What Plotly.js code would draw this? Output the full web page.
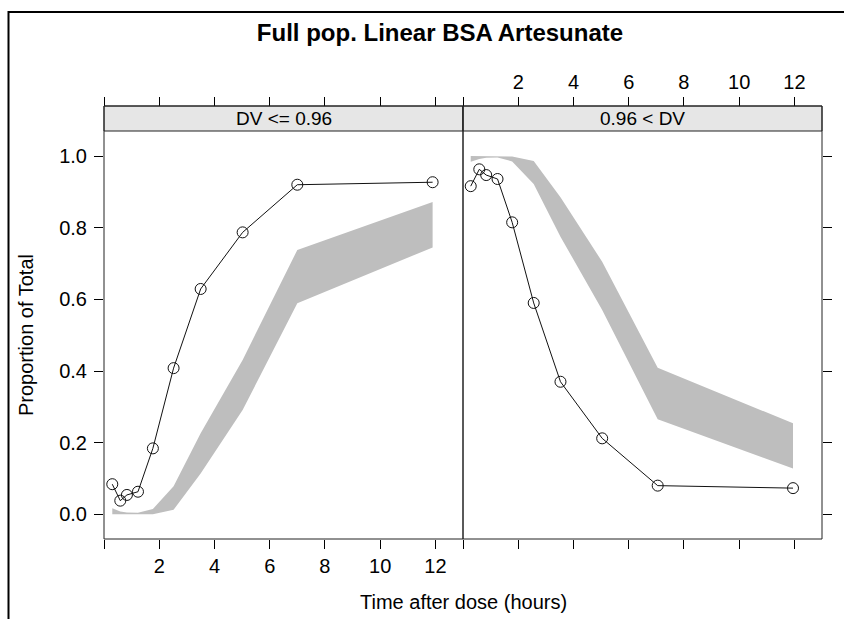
<!DOCTYPE html>
<html>
<head>
<meta charset="utf-8">
<script src="https://cdn.plot.ly/plotly-3.0.1.min.js"></script>
<style>html,body{margin:0;padding:0;background:#fff;}#chart{width:844px;height:619px;}</style>
</head>
<body>
<div id="chart"></div>
<script>
// ---- data ----
var panelLabels = ["DV <= 0.96", "0.96 < DV"];
var xTickVals = [0, 2, 4, 6, 8, 10, 12];
var xTickText = ["", "2", "4", "6", "8", "10", "12"];
var yTickVals = [0, 0.2, 0.4, 0.6, 0.8, 1.0];

// panel 1: DV <= 0.96
var timesLow   = [0.30, 0.59, 0.83, 1.23, 1.77, 2.52, 3.50, 5.02, 7.00, 11.90];
var obsLow     = [0.084, 0.038, 0.054, 0.063, 0.184, 0.408, 0.629, 0.787, 0.920, 0.927];
var bandLowLo  = [0.000, 0.000, 0.000, 0.000, 0.000, 0.013, 0.114, 0.291, 0.589, 0.745];
var bandLowHi  = [0.017, 0.008, 0.005, 0.004, 0.015, 0.078, 0.226, 0.431, 0.738, 0.872];

// panel 2: 0.96 < DV
var timesHigh  = [0.28, 0.59, 0.84, 1.25, 1.78, 2.56, 3.53, 5.04, 7.05, 11.95];
var obsHigh    = [0.916, 0.963, 0.947, 0.936, 0.815, 0.590, 0.370, 0.212, 0.080, 0.073];
var bandHighLo = [0.984, 0.992, 0.995, 0.996, 0.985, 0.922, 0.775, 0.570, 0.265, 0.128];
var bandHighHi = [1.000, 1.000, 1.000, 1.000, 0.999, 0.986, 0.885, 0.705, 0.409, 0.254];

// ---- layout constants ----
var FONT = "Liberation Sans, Arial, Helvetica, sans-serif";
var W = 844, H = 619;
var M = {l: 104, r: 22, t: 106, b: 80};
var plotH = H - M.t - M.b;          // includes strip
var stripPx = 25;
var yTop = (plotH - stripPx) / plotH;
var xRange = [0, 13];
var yRange = [-0.069, 1.07];
var bandColor = "#BEBEBE";

function bandTraces(t, lo, hi, xa, ya) {
  return [
    {x: t, y: lo, xaxis: xa, yaxis: ya, mode: "lines", line: {width: 0, color: bandColor},
     hoverinfo: "skip", showlegend: false},
    {x: t, y: hi, xaxis: xa, yaxis: ya, mode: "lines", line: {width: 0, color: bandColor},
     fill: "tonexty", fillcolor: bandColor, hoverinfo: "skip", showlegend: false}
  ];
}
function obsTrace(t, v, xa, ya) {
  return {x: t, y: v, xaxis: xa, yaxis: ya, mode: "lines+markers",
    line: {color: "#111", width: 1},
    marker: {symbol: "circle-open", size: 11, color: "#111", line: {width: 1, color: "#111"}},
    showlegend: false};
}

var traces = []
  .concat(bandTraces(timesLow, bandLowLo, bandLowHi, "x", "y"))
  .concat([obsTrace(timesLow, obsLow, "x", "y")])
  .concat(bandTraces(timesHigh, bandHighLo, bandHighHi, "x2", "y2"))
  .concat([obsTrace(timesHigh, obsHigh, "x2", "y2")])
  .concat([
    {x: [null], y: [null], xaxis: "x3", yaxis: "y", mode: "markers", showlegend: false, hoverinfo: "skip"},
    {x: [null], y: [null], xaxis: "x4", yaxis: "y2", mode: "markers", showlegend: false, hoverinfo: "skip"}
  ]);

var baseX = {
  range: xRange, tickmode: "array", tickvals: xTickVals, ticktext: xTickText,
  ticks: "outside", ticklen: 9, tickwidth: 1, tickcolor: "#000",
  showline: false, showgrid: false, zeroline: false,
  tickfont: {family: FONT, size: 20, color: "#000"}, fixedrange: true
};
function ax(base, extra) { var o = {}; for (var k in base) o[k] = base[k]; for (var k2 in extra) o[k2] = extra[k2]; return o; }

var baseY = {
  range: yRange, domain: [0, yTop], tickmode: "array", tickvals: yTickVals, tickformat: ".1f",
  ticks: "outside", ticklen: 9, tickwidth: 1, tickcolor: "#000",
  showline: false, showgrid: false, zeroline: false,
  tickfont: {family: FONT, size: 20, color: "#000"}, fixedrange: true
};

function px2paperX(px) { return (px - M.l) / (W - M.l - M.r); }
function px2paperY(py) { return (H - M.b - py) / plotH; }

var layout = {
  width: W, height: H,
  margin: M,
  paper_bgcolor: "#fff", plot_bgcolor: "rgba(0,0,0,0)",
  showlegend: false,
  font: {family: FONT, color: "#000"},
  title: {text: "<b>Full pop. Linear BSA Artesunate</b>", font: {family: FONT, size: 24, color: "#000"},
          xref: "container", yref: "container", x: 440 / W, xanchor: "center", y: 1 - 33 / H, yanchor: "middle"},
  xaxis:  ax(baseX, {domain: [0, 0.5], anchor: "y"}),
  xaxis2: ax(baseX, {domain: [0.5, 1], anchor: "y2", showticklabels: false}),
  xaxis3: ax(baseX, {domain: [0, 0.5], overlaying: "x", side: "top", anchor: "free", position: 1, showticklabels: false}),
  xaxis4: ax(baseX, {domain: [0.5, 1], overlaying: "x2", side: "top", anchor: "free", position: 1}),
  yaxis:  ax(baseY, {anchor: "x", ticklabelstandoff: 3}),
  yaxis2: ax(baseY, {anchor: "x2", side: "right", showticklabels: false}),
  shapes: [
    // strips
    {type: "rect", xref: "paper", yref: "paper", x0: 0, x1: 0.5, y0: yTop, y1: 1, fillcolor: "#E6E6E6", line: {color: "#222", width: 1}, layer: "below"},
    {type: "rect", xref: "paper", yref: "paper", x0: 0.5, x1: 1, y0: yTop, y1: 1, fillcolor: "#E6E6E6", line: {color: "#222", width: 1}, layer: "below"},
    // panel frames
    {type: "rect", xref: "paper", yref: "paper", x0: 0, x1: 0.5, y0: 0, y1: 1, line: {color: "#222", width: 1}},
    {type: "rect", xref: "paper", yref: "paper", x0: 0.5, x1: 1, y0: 0, y1: 1, line: {color: "#222", width: 1}},
    // outer figure frame (clipped by the page edges)
    {type: "rect", xref: "paper", yref: "paper", x0: px2paperX(8.5), x1: px2paperX(900), y0: px2paperY(680), y1: px2paperY(12),
     line: {color: "#000", width: 2}}
  ],
  annotations: [
    {text: panelLabels[0], xref: "paper", yref: "paper", x: 0.25, y: (1 + yTop) / 2, xanchor: "center", yanchor: "middle",
     showarrow: false, font: {family: FONT, size: 19, color: "#000"}},
    {text: panelLabels[1], xref: "paper", yref: "paper", x: 0.75, y: (1 + yTop) / 2, xanchor: "center", yanchor: "middle",
     showarrow: false, font: {family: FONT, size: 19, color: "#000"}},
    {text: "Time after dose (hours)", xref: "paper", yref: "paper", x: 0.5, y: px2paperY(602), xanchor: "center", yanchor: "middle",
     showarrow: false, font: {family: FONT, size: 20, color: "#000"}},
    {text: "Proportion of Total", xref: "paper", yref: "paper", x: px2paperX(26), y: px2paperY(335), xanchor: "center", yanchor: "middle",
     textangle: -90, showarrow: false, font: {family: FONT, size: 20, color: "#000"}}
  ]
};

Plotly.newPlot("chart", traces, layout, {displayModeBar: false, staticPlot: true});
</script>
</body>
</html>
